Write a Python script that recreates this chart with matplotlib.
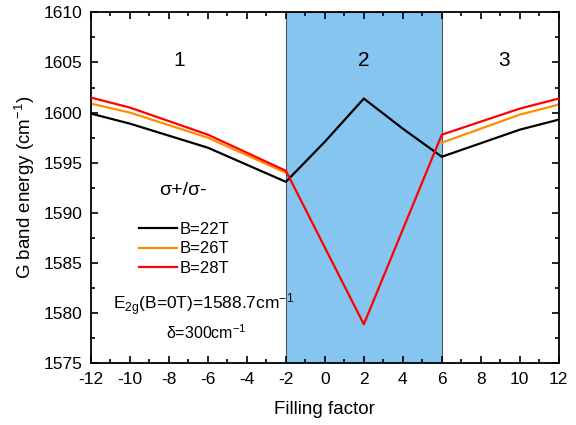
import matplotlib
matplotlib.use("Agg")
import matplotlib.pyplot as plt
from matplotlib.ticker import MultipleLocator

plt.rcParams['font.family'] = ['Liberation Sans', 'DejaVu Sans']
plt.rcParams['mathtext.fontset'] = 'custom'
plt.rcParams['mathtext.rm'] = 'Liberation Sans'
plt.rcParams['mathtext.it'] = 'Liberation Sans'
plt.rcParams['axes.unicode_minus'] = False

# Data
x_full = [-12, -10, -6, -2, 0, 2, 4, 6, 10, 12]
b22 = [1599.9, 1598.9, 1596.5, 1593.1, 1597.1, 1601.4, 1598.4, 1595.6, 1598.3, 1599.3]
x_b28 = [-12, -10, -6, -2, 2, 6, 10, 12]
b28 = [1601.5, 1600.5, 1597.8, 1594.2, 1578.9, 1597.8, 1600.4, 1601.4]
x_b26_left = [-12, -10, -6, -2]
b26_left = [1600.9, 1600.0, 1597.5, 1594.0]
x_b26_right = [6, 10, 12]
b26_right = [1597.0, 1599.8, 1600.8]
region = (-2, 6)
region_labels = ['1', '2', '3']
region_label_x = [-7.5, 2.0, 9.2]

fig = plt.figure(figsize=(5.76, 4.25), dpi=100)
ax = fig.add_axes([0.158, 0.145, 0.812, 0.826])

ax.axvspan(region[0], region[1], facecolor='#85C5F0', edgecolor='#555555', lw=0.8, zorder=0)

ax.plot(x_full, b22, color='black', lw=1.6, label='B=22T', zorder=3)
ax.plot(x_b26_left, b26_left, color='#FF8C00', lw=1.6, label='B=26T', zorder=2)
ax.plot(x_b26_right, b26_right, color='#FF8C00', lw=1.6, zorder=2)
ax.plot(x_b28, b28, color='#FF0000', lw=1.6, label='B=28T', zorder=4)

ax.set_xlim(-12, 12)
ax.set_ylim(1575, 1610)
ax.xaxis.set_major_locator(MultipleLocator(2))
ax.xaxis.set_minor_locator(MultipleLocator(1))
ax.yaxis.set_major_locator(MultipleLocator(5))
ax.yaxis.set_minor_locator(MultipleLocator(2.5))
ax.tick_params(which='both', direction='in', top=True, right=True, labelsize=12.5, width=1.2, pad=6)
ax.tick_params(which='major', length=5)
ax.tick_params(which='minor', length=3)
for s in ax.spines.values():
    s.set_linewidth(1.3)

ax.set_xlabel('Filling factor', fontsize=13.5, labelpad=10)
ax.set_ylabel('G band energy (cm$^{-1}$)', fontsize=13.5, labelpad=5)

for lab, xx in zip(region_labels, region_label_x):
    ax.text(xx, 1605.2, lab, fontsize=15, ha='center', va='center')

ax.text(-7.3, 1592.2, 'σ+/σ-', fontsize=14, ha='center', va='center')
ax.legend(loc='upper left', bbox_to_anchor=(0.07, 0.445), frameon=False, fontsize=12,
          handlelength=2.3, handletextpad=0.15, labelspacing=0.26)
ax.text(-6.2, 1580.8, r'E$_{2g}$(B=0T)=1588.7cm$^{-1}$', fontsize=12.5, ha='center', va='center')
ax.text(-6.1, 1578.1, r'δ=300cm$^{-1}$', fontsize=11.5, ha='center', va='center')

fig.savefig('out.png', dpi=100)
